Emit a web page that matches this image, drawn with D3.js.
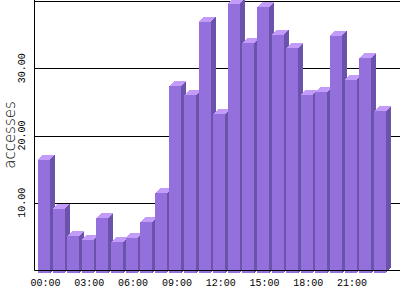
<!DOCTYPE html>
<html>
<head>
<meta charset="utf-8">
<script src="https://cdn.jsdelivr.net/npm/d3@7"></script>
<style>
  body { margin: 0; background: #fff; }
  svg { display: block; }
  .lbl { font-family: "Liberation Mono", monospace; font-size: 10px; fill: #000; }
</style>
</head>
<body>
<div id="chart"></div>
<script>
// accesses per hour
let hours = ["00:00","01:00","02:00","03:00","04:00","05:00","06:00","07:00","08:00","09:00","10:00","11:00",
             "12:00","13:00","14:00","15:00","16:00","17:00","18:00","19:00","20:00","21:00","22:00","23:00"];
let accesses = [16.4, 9.1, 5.0, 4.5, 7.7, 4.1, 4.7, 7.1, 11.4, 27.3, 26.0, 36.9,
                23.2, 39.6, 33.7, 39.1, 35.0, 33.0, 26.0, 26.5, 34.8, 28.3, 31.5, 23.6];
let yTicks = [10, 20, 30, 40];
let xTickLabels = ["00:00","03:00","06:00","09:00","12:00","15:00","18:00","21:00"];

let width = 400, height = 300;
let depth = 5;   // 3d offset

let svg = d3.select("#chart").append("svg")
    .attr("width", width)
    .attr("height", height);

let x = d3.scaleBand()
    .domain(hours)
    .range([38, 385.8])
    .paddingInner(0.178)
    .paddingOuter(0);

let y = d3.scaleLinear()
    .domain([0, 40])
    .range([270, 1]);

// grid lines
svg.append("g").selectAll("line")
    .data(yTicks)
    .enter().append("line")
    .attr("x1", 35).attr("x2", width)
    .attr("y1", d => Math.round(y(d)) + 0.5)
    .attr("y2", d => Math.round(y(d)) + 0.5)
    .attr("stroke", "#000");

// y tick labels (rotated)
svg.append("g").selectAll("text")
    .data(yTicks.filter(d => d < 40))
    .enter().append("text")
    .attr("class", "lbl")
    .attr("transform", d => "translate(25," + y(d) + ")rotate(-90)")
    .attr("text-anchor", "middle")
    .text(d => d3.format(".2f")(d));

// y axis title
svg.append("text")
    .attr("transform", "translate(15,135)rotate(-90)")
    .attr("text-anchor", "middle")
    .style("font-family", "'DejaVu Sans', sans-serif")
    .style("font-weight", "200")
    .style("font-size", "15px")
    .text("accesses");

// bars
let bottom = y(0) + 3;
let bw = x.bandwidth();
let bars = svg.append("g")
    .attr("shape-rendering", "crispEdges")
    .selectAll("g")
    .data(accesses)
    .enter().append("g");

bars.append("path")   // side
    .attr("fill", "#6b52aa")
    .attr("d", (d, i) => {
        let x0 = x(hours[i]) + bw, t = y(d);
        return "M" + x0 + "," + t + "L" + (x0 + depth) + "," + (t - depth) +
               "L" + (x0 + depth) + "," + (bottom - depth) + "L" + x0 + "," + bottom + "Z";
    });

bars.append("path")   // top
    .attr("fill", "#c39cfa")
    .attr("d", (d, i) => {
        let x0 = x(hours[i]), t = y(d);
        return "M" + x0 + "," + t + "L" + (x0 + bw) + "," + t +
               "L" + (x0 + bw + depth) + "," + (t - depth) + "L" + (x0 + depth) + "," + (t - depth) + "Z";
    });

bars.append("rect")   // front
    .attr("fill", "#9370db")
    .attr("x", (d, i) => x(hours[i]))
    .attr("y", d => y(d))
    .attr("width", bw)
    .attr("height", d => bottom - y(d));

// axis lines
svg.append("line")
    .attr("x1", 34.5).attr("x2", 34.5)
    .attr("y1", 0).attr("y2", 270.5)
    .attr("stroke", "#000");
svg.append("line")
    .attr("x1", 34.5).attr("x2", width)
    .attr("y1", 270.5).attr("y2", 270.5)
    .attr("stroke", "#000");

// x tick labels
svg.append("g").selectAll("text")
    .data(xTickLabels)
    .enter().append("text")
    .attr("class", "lbl")
    .attr("x", d => x(d) + bw / 2 + depth / 2 - 1)
    .attr("y", 286)
    .attr("text-anchor", "middle")
    .text(d => d);
</script>
</body>
</html>
